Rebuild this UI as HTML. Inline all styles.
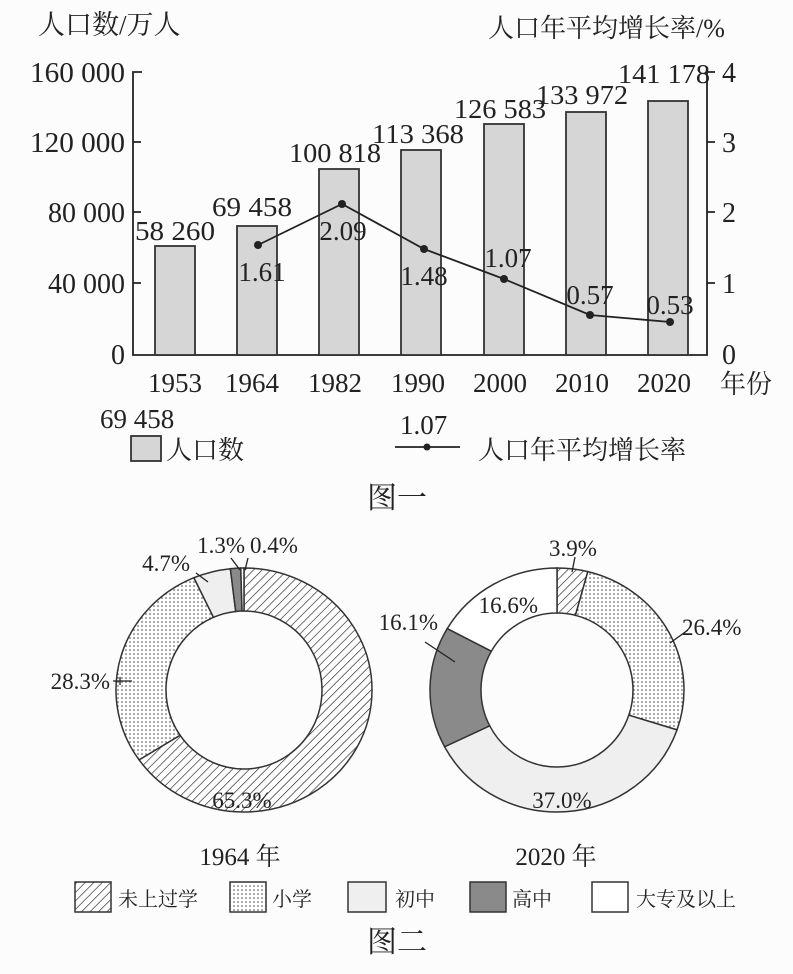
<!DOCTYPE html>
<html><head><meta charset="utf-8"><style>
body{margin:0;background:#fcfcfc;}
svg{display:block;font-family:"Liberation Serif","Noto Serif CJK SC",serif;}
.c{font-family:"Liberation Serif","Noto Serif CJK SC",serif;}
</style></head><body>
<svg id="s" width="793" height="974" viewBox="0 0 793 974" xmlns="http://www.w3.org/2000/svg">
<defs>
<pattern id="hatch" width="6" height="6" patternUnits="userSpaceOnUse" patternTransform="rotate(45)">
<rect width="6" height="6" fill="#fff"/><line x1="0" y1="0" x2="0" y2="6" stroke="#222" stroke-width="1.3"/></pattern>
<pattern id="dots" width="4" height="4" patternUnits="userSpaceOnUse">
<rect width="4" height="4" fill="#fff"/><circle cx="2" cy="2" r="0.8" fill="#444"/></pattern>
</defs>
<rect width="793" height="974" fill="#fcfcfc"/>
<g fill="#222" font-size="28">
<text x="38" y="34" class="c" font-size="27">人口数/万人</text>
<text x="488" y="37" class="c" font-size="26">人口年平均增长率/%</text>
<g text-anchor="end">
<text x="125" y="82" textLength="95" lengthAdjust="spacingAndGlyphs">160 000</text><text x="125" y="152" textLength="95" lengthAdjust="spacingAndGlyphs">120 000</text><text x="125" y="222">80 000</text><text x="125" y="293">40 000</text><text x="125" y="364">0</text>
</g>
<g>
<text x="722" y="82">4</text><text x="722" y="152">3</text><text x="722" y="222">2</text><text x="722" y="293">1</text><text x="722" y="364">0</text>
</g>
</g>
<g stroke="#222" stroke-width="1.8" fill="none">
<path d="M142 72H133V355H707V72H715M133 142h8M133 212h8M133 283h8M707 142h8M707 212h8M707 283h8"/>
</g>
<g fill="#d6d6d6" stroke="#333" stroke-width="1.8">
<rect x="155" y="246" width="40" height="109"/>
<rect x="237" y="226" width="40" height="129"/>
<rect x="319" y="169" width="40" height="186"/>
<rect x="401" y="150" width="40" height="205"/>
<rect x="484" y="124" width="40" height="231"/>
<rect x="566" y="112" width="40" height="243"/>
<rect x="648" y="101" width="40" height="254"/>
</g>
<polyline points="258,245 342,204 424,249 504,279 590,315 670,322" fill="none" stroke="#222" stroke-width="1.8"/>
<g fill="#222"><circle cx="258" cy="245" r="4"/><circle cx="342" cy="204" r="4"/><circle cx="424" cy="249" r="4"/><circle cx="504" cy="279" r="4"/><circle cx="590" cy="315" r="4"/><circle cx="670" cy="322" r="4"/></g>
<g fill="#222" font-size="27" text-anchor="middle">
<text x="175" y="240" textLength="80" lengthAdjust="spacingAndGlyphs">58 260</text><text x="252" y="216" textLength="80" lengthAdjust="spacingAndGlyphs">69 458</text><text x="335" y="162" textLength="92" lengthAdjust="spacingAndGlyphs">100 818</text><text x="418" y="143" textLength="92" lengthAdjust="spacingAndGlyphs">113 368</text><text x="500" y="118" textLength="92" lengthAdjust="spacingAndGlyphs">126 583</text><text x="582" y="104" textLength="92" lengthAdjust="spacingAndGlyphs">133 972</text><text x="664" y="83" textLength="92" lengthAdjust="spacingAndGlyphs">141 178</text>
<text x="262" y="281">1.61</text><text x="343" y="240">2.09</text><text x="424" y="285">1.48</text><text x="508" y="267">1.07</text><text x="590" y="304">0.57</text><text x="670" y="314">0.53</text>
<text x="175" y="392">1953</text><text x="252" y="392">1964</text><text x="335" y="392">1982</text><text x="418" y="392">1990</text><text x="500" y="392">2000</text><text x="582" y="392">2010</text><text x="664" y="392">2020</text>
</g>
<text x="720" y="393" class="c" font-size="26" fill="#222">年份</text>
<text x="100" y="428" font-size="27" fill="#222">69 458</text>
<rect x="131" y="436" width="30" height="25" fill="#d6d6d6" stroke="#333" stroke-width="1.8"/>
<text x="166" y="459" class="c" font-size="26" fill="#222">人口数</text>
<text x="400" y="434" font-size="27" fill="#222">1.07</text>
<line x1="395" y1="447" x2="460" y2="447" stroke="#222" stroke-width="1.8"/><circle cx="427" cy="447" r="3.5" fill="#222"/>
<text x="478" y="459" class="c" font-size="26" fill="#222">人口年平均增长率</text>
<text x="397" y="508" class="c" font-size="30" fill="#222" text-anchor="middle">图一</text>
<g id="d1"></g><g id="d2"></g>
<g fill="#222" font-size="23">
<text x="245" y="553" text-anchor="end">1.3%</text><text x="250" y="553">0.4%</text><text x="190" y="571" text-anchor="end">4.7%</text>
<text x="110" y="689" text-anchor="end">28.3%</text><text x="242" y="808" text-anchor="middle">65.3%</text>
<text x="549" y="556">3.9%</text><text x="538" y="613" text-anchor="end">16.6%</text><text x="438" y="630" text-anchor="end">16.1%</text><text x="682" y="635">26.4%</text><text x="562" y="808" text-anchor="middle">37.0%</text>
<text x="240" y="865" font-size="25" text-anchor="middle">1964 年</text><text x="556" y="865" font-size="25" text-anchor="middle">2020 年</text>
</g>
<g stroke="#222" stroke-width="1.3" fill="none">
<path d="M113 681H132M120 677v8M231 558L240 570M248 558L245 570M196 573L208 582M425 642L455 662M670 643L688 630M575 557L572 572"/>
</g>
<g stroke="#333" stroke-width="1.5">
<rect x="75" y="882" width="36" height="30" fill="url(#hatch)"/>
<rect x="230" y="882" width="36" height="30" fill="url(#dots)"/>
<rect x="348" y="882" width="38" height="30" fill="#efefef"/>
<rect x="470" y="882" width="36" height="30" fill="#8a8a8a"/>
<rect x="592" y="882" width="36" height="30" fill="#fff"/>
</g>
<g class="c" font-size="20" fill="#222">
<text x="118" y="906">未上过学</text><text x="272" y="906">小学</text><text x="395" y="906">初中</text><text x="512" y="906">高中</text><text x="636" y="906">大专及以上</text>
</g>
<text x="397" y="952" class="c" font-size="30" fill="#222" text-anchor="middle">图二</text>
</svg>
<script>
function donut(id,cx,cy,rx,ry,irx,iry,vals,fills){
 var g=document.getElementById(id),a=0,h='';
 function pt(ang,x,y){return [cx+x*Math.sin(ang),cy-y*Math.cos(ang)];}
 vals.forEach(function(v,i){
  var a0=a/100*2*Math.PI;a+=v;var a1=a/100*2*Math.PI;var L=(a1-a0)>Math.PI?1:0;
  var p0=pt(a0,rx,ry),p1=pt(a1,rx,ry),q1=pt(a1,irx,iry),q0=pt(a0,irx,iry);
  h+='<path d="M'+p0+'A'+rx+' '+ry+' 0 '+L+' 1 '+p1+'L'+q1+'A'+irx+' '+iry+' 0 '+L+' 0 '+q0+'Z" fill="'+fills[i]+'" stroke="#333" stroke-width="1.5"/>';
 });
 g.innerHTML=h;
}
var F=['url(#hatch)','url(#dots)','#efefef','#8a8a8a','#fff'];
donut('d1',244,690,128,122,78,79,[65.3,28.3,4.7,1.3,0.4],F);
donut('d2',557,690,127,122,76,77,[3.9,26.4,37.0,16.1,16.6],F);
</script>
</body></html>
